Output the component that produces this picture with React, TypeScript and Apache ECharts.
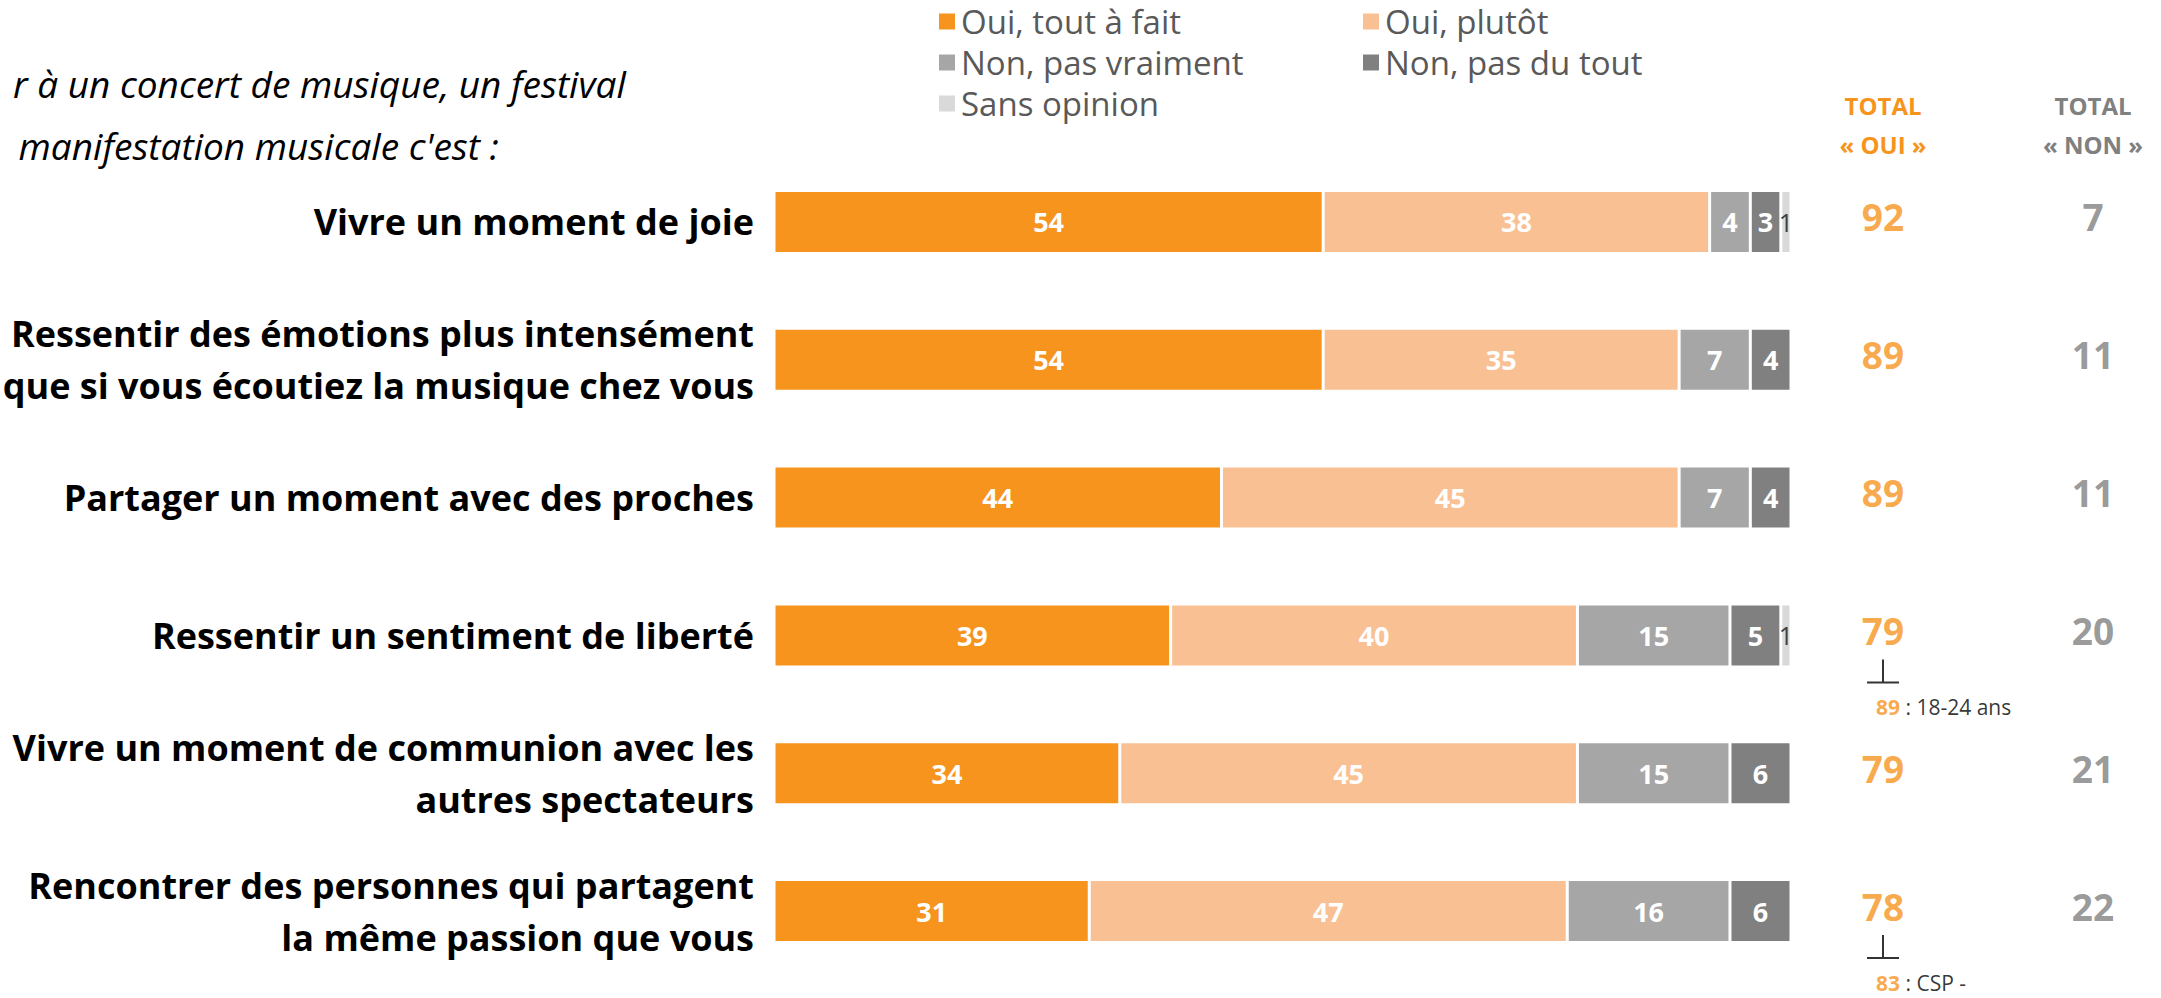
import React, { useEffect, useRef } from "react";
import * as echarts from "echarts";

const categories = [
  "Vivre un moment de joie",
  "Ressentir des émotions plus intensément\nque si vous écoutiez la musique chez vous",
  "Partager un moment avec des proches",
  "Ressentir un sentiment de liberté",
  "Vivre un moment de communion avec les\nautres spectateurs",
  "Rencontrer des personnes qui partagent\nla même passion que vous",
];
const seriesNames = ["Oui, tout à fait", "Oui, plutôt", "Non, pas vraiment", "Non, pas du tout", "Sans opinion"];
const ouiToutAFait = [54, 54, 44, 39, 34, 31];
const ouiPlutot = [38, 35, 45, 40, 45, 47];
const nonPasVraiment = [4, 7, 7, 15, 15, 16];
const nonPasDuTout = [3, 4, 4, 5, 6, 6];
const sansOpinion = [1, 0, 0, 1, 0, 0];
const totalHeaders = ["TOTAL\n« OUI »", "TOTAL\n« NON »"];
const totalOui = [92, 89, 89, 79, 79, 78];
const totalNon = [7, 11, 11, 20, 21, 22];
const notes = [
  { row: 3, value: 89, text: "18-24 ans" },
  { row: 5, value: 83, text: "CSP -" },
];
const titleLines = ["r à un concert de musique, un festival", " manifestation musicale c'est :"];

const FONT = "'Open Sans', 'Noto Sans', sans-serif";
const ORANGE = "#F7941D";
const colors = ["#F7941D", "#F9C193", "#A6A6A6", "#808080", "#D9D9D9"];

export default function App() {
  const ref = useRef<HTMLDivElement>(null);
  useEffect(() => {
    if (!ref.current) return;
    const chart = echarts.init(ref.current, null, { renderer: "svg" });
    const stackData = [ouiToutAFait, ouiPlutot, nonPasVraiment, nonPasDuTout, sansOpinion];
    const barSeries = stackData.map((arr, k) => ({
      name: seriesNames[k],
      type: "bar",
      stack: "total",
      xAxisIndex: 0,
      yAxisIndex: 0,
      barWidth: 63,
      data: arr,
      itemStyle: { color: colors[k], borderColor: "#fff", borderWidth: 1.5 },
      label: {
        show: true,
        position: "inside",
        fontFamily: FONT,
        fontSize: k === 4 ? 25 : 27,
        fontWeight: k === 4 ? "normal" : "bold",
        color: k === 4 ? "#404040" : "#fff",
        formatter: (p: any) => (p.value ? String(p.value) : ""),
      },
    }));
    const legendCommon = {
      icon: "rect",
      itemWidth: 18,
      itemHeight: 18,
      padding: 0,
      selectedMode: false,
      textStyle: { fontSize: 33, color: "#595959", fontFamily: FONT },
    };
    const legendPos = [
      [937, 5],
      [1361, 5],
      [937, 46],
      [1361, 46],
      [937, 87],
    ];
    const totalLabel = (arr: number[], color: string) => ({
      show: true,
      position: "inside",
      offset: [0, -5],
      fontFamily: FONT,
      fontSize: 37,
      fontWeight: "bold",
      color,
      formatter: (p: any) => String(arr[p.dataIndex]),
    });
    const option: any = {
      animation: false,
      textStyle: { fontFamily: FONT },
      legend: seriesNames.map((n, i) => ({
        ...legendCommon,
        data: [n],
        left: legendPos[i][0],
        top: legendPos[i][1],
      })),
      grid: [
        { left: 774, width: 1017, top: 153, height: 827, outerBoundsMode: "none", containLabel: false },
        { left: 1778, width: 420, top: 153, height: 827, outerBoundsMode: "none", containLabel: false },
      ],
      xAxis: [
        { type: "value", min: 0, max: 100, show: false, gridIndex: 0 },
        {
          type: "category",
          gridIndex: 1,
          position: "top",
          data: totalHeaders,
          axisLine: { show: false },
          axisTick: { show: false },
          splitLine: { show: false },
          axisLabel: {
            fontFamily: FONT,
            fontSize: 24,
            fontWeight: "bold",
            lineHeight: 39,
            margin: -11,
            color: (v: string) => (v.indexOf("OUI") >= 0 ? ORANGE : "#808080"),
          },
        },
      ],
      yAxis: [
        {
          type: "category",
          gridIndex: 0,
          inverse: true,
          data: categories,
          axisLine: { show: false },
          axisTick: { show: false },
          axisLabel: {
            fontFamily: FONT,
            fontSize: 36,
            fontWeight: "bold",
            color: "#000",
            lineHeight: 52,
            margin: 20,
          },
        },
        { type: "category", gridIndex: 1, inverse: true, data: categories, show: false },
      ],
      graphic: titleLines.map((t, i) => ({
        type: "text",
        x: i === 0 ? 13 : 9,
        y: i === 0 ? 83 : 145,
        style: {
          text: t,
          fontFamily: FONT,
          fontSize: 37,
          fontStyle: "italic",
          fill: "#000",
          verticalAlign: "middle",
        },
      })),
      series: [
        ...barSeries,
        {
          type: "scatter",
          name: "totalOui",
          xAxisIndex: 1,
          yAxisIndex: 1,
          symbolSize: 1,
          itemStyle: { color: "rgba(0,0,0,0)" },
          data: totalOui.map((v, i) => [totalHeaders[0], categories[i]]),
          label: totalLabel(totalOui, ORANGE),
        },
        {
          type: "scatter",
          name: "totalNon",
          xAxisIndex: 1,
          yAxisIndex: 1,
          symbolSize: 1,
          itemStyle: { color: "rgba(0,0,0,0)" },
          data: totalNon.map((v, i) => [totalHeaders[1], categories[i]]),
          label: totalLabel(totalNon, "#808080"),
        },
        {
          type: "scatter",
          name: "noteMark",
          xAxisIndex: 1,
          yAxisIndex: 1,
          symbol: "path://M15,0 h2 v22 h-2 z M0,22 h32 v2 h-32 z",
          symbolSize: [32, 24],
          symbolOffset: [0, 36],
          itemStyle: { color: "#000" },
          data: notes.map((n) => [totalHeaders[0], categories[n.row]]),
        },
        {
          type: "scatter",
          name: "noteText",
          xAxisIndex: 1,
          yAxisIndex: 1,
          symbolSize: 1,
          itemStyle: { color: "rgba(0,0,0,0)" },
          data: notes.map((n) => [totalHeaders[0], categories[n.row]]),
          label: {
            show: true,
            position: "inside",
            align: "left",
            offset: [-7, 72],
            fontFamily: FONT,
            formatter: (p: any) => `{o|${notes[p.dataIndex].value}}{t| : ${notes[p.dataIndex].text}}`,
            rich: {
              o: { fontFamily: FONT, fontSize: 21, fontWeight: "bold", color: ORANGE },
              t: { fontFamily: FONT, fontSize: 21, color: "#000" },
            },
          },
        },
      ],
    };
    chart.setOption(option);
    return () => chart.dispose();
  }, []);
  return (
    <div
      ref={ref}
      style={{ position: "fixed", left: 0, top: 0, width: 2161, height: 998, background: "#fff" }}
    />
  );
}
